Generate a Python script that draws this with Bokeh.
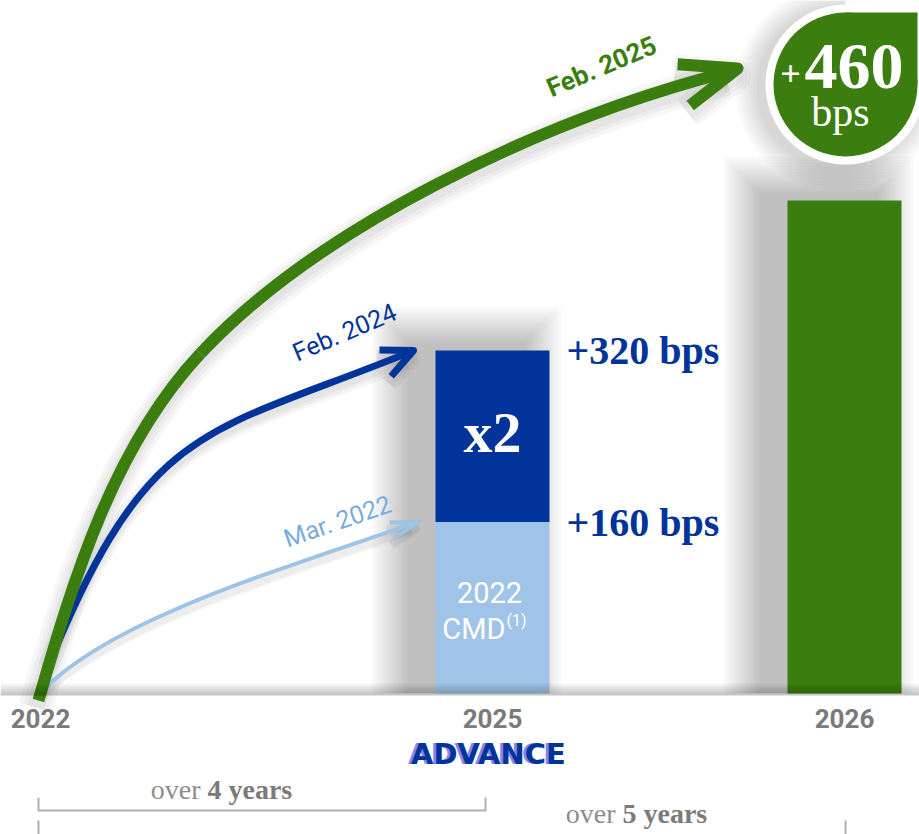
import math
from bokeh.plotting import figure
from bokeh.models import Range1d
from bokeh.embed import file_html
from bokeh.resources import INLINE
from bokeh.core.properties import value

# ---------------- data ----------------
years = ["2022", "2025", "2026"]
cmd_2022_bps = 160          # Mar. 2022 (2022 CMD) target
feb_2024_bps = 320          # Feb. 2024 target (x2)
feb_2025_bps = 460          # Feb. 2025 target
stack_labels = ["+160 bps", "+320 bps"]
arrow_labels = ["Mar. 2022", "Feb. 2024", "Feb. 2025"]
cmd_label = ["2022", "CMD", "(1)"]
mult_label = "x2"
bubble_label = ["+", "460", "bps"]
period_labels = [("over", "4 years"), ("over", "5 years")]
brand = "ADVANCE"

# ---------------- layout / style ----------------
W, H = 919, 834
BASE_PX = 693            # pixel row of the zero line
K = 1.0715               # pixels per bps
BAR_W = 114
year_x = {"2022": 40, "2025": 492, "2026": 844}

GREEN = "#3b7d0e"
BLUE = "#00349a"
LIGHT = "#a0c4e8"
LIGHT_ARROW = "#9dc3e6"
LIGHT_TEXT = "#78acdf"
GREY_TXT = "#7a7a7a"
GREY_LINE = "#b0b0b0"
SERIF = value("Liberation Serif")
SANS = value("Roboto")


def Y(py):
    """pixel row -> data y (bps)."""
    return (BASE_PX - py) / K


def LV(v):
    """data value -> pixel row."""
    return BASE_PX - v * K


p = figure(width=W, height=H, x_range=Range1d(0, W), y_range=Range1d(Y(H), Y(0)),
           output_backend="svg", toolbar_location=None, min_border=0,
           x_axis_location=None, y_axis_location=None)
p.grid.visible = False
p.outline_line_color = None
p.background_fill_color = "white"
p.border_fill_color = "white"

# ---------------- soft shadows ----------------
SDX, SDY = -26, -6
bars_px = [
    (year_x["2025"] - BAR_W / 2, year_x["2025"] + BAR_W / 2, LV(feb_2024_bps)),
    (year_x["2026"] - BAR_W / 2, year_x["2026"] + BAR_W / 2, LV(feb_2025_bps)),
]
for e in range(38, 0, -3):
    p.quad(left=[b[0] - e + SDX for b in bars_px],
           right=[b[1] + e + SDX for b in bars_px],
           top=[Y(b[2] - e + SDY) for b in bars_px],
           bottom=[Y(BASE_PX)] * len(bars_px),
           fill_color="black", fill_alpha=0.021, line_color=None)

# bubble shadow
BC = (845, 84)
for e in range(22, 0, -3):
    p.scatter(x=[BC[0] - 8], y=[Y(BC[1] + 4)], size=2 * (80 + e), marker="circle",
              fill_color="black", fill_alpha=0.02, line_color=None)


# ---------------- curves ----------------
def bez(seg):
    (x0, y0), (c0x, c0y), (c1x, c1y), (x1, y1) = seg
    return dict(x0=[x0], y0=[Y(y0)], cx0=[c0x], cy0=[Y(c0y)],
                cx1=[c1x], cy1=[Y(c1y)], x1=[x1], y1=[Y(y1)])


def shifted(seg, dx, dy):
    return tuple((a + dx, b + dy) for a, b in seg)


def head(tip, ang, length, half):
    tx, ty = tip
    pts = []
    for s in (-1, 1):
        a = math.radians(ang + s * half)
        pts.append((tx - length * math.cos(a), ty + length * math.sin(a)))
    xs = [pts[0][0], tx, pts[1][0]]
    ys = [Y(pts[0][1]), Y(ty), Y(pts[1][1])]
    return xs, ys


light_tip = (418, LV(cmd_2022_bps))
blue_tip = (413, LV(feb_2024_bps))
green_tip = (737, 68)

light_seg = [((42, 690), (112, 619), (271, 572), (light_tip[0] - 4, light_tip[1] + 1))]
blue_seg = [((50, 660), (149, 420), (206, 434), (blue_tip[0] - 5, blue_tip[1] + 2))]
green_seg = [((38, 700), (73, 578), (113, 446), (200, 353)),
             ((200, 353), (316, 229), (535, 121), (729, 71))]

curves = [
    (light_seg, LIGHT_ARROW, 4, light_tip, 17, 29, 16, [10, 7]),
    (blue_seg, BLUE, 7, blue_tip, 24, 34, 25, [20, 14, 9]),
    (green_seg, GREEN, 12, green_tip, 17, 60, 21, [34, 26, 18]),
]

# shadows of curves
for segs, col, lw, tip, ang, ln, half, sw in curves:
    for w in sw:
        for s in segs:
            p.bezier(**bez(shifted(s, -3, 7)), line_color="black", line_alpha=0.035,
                     line_width=w, line_cap="butt")
        hx, hy = head((tip[0] - 3, tip[1] + 7), ang, ln, half)
        p.line(hx, hy, line_color="black", line_alpha=0.03, line_width=w, line_join="round")

for segs, col, lw, tip, ang, ln, half, sw in curves:
    for s in segs:
        p.bezier(**bez(s), line_color=col, line_width=lw, line_cap="butt")
    hx, hy = head(tip, ang, ln, half)
    p.line(hx, hy, line_color=col, line_width=lw, line_join="round", line_cap="butt")

# arrow labels
p.text(x=[337], y=[Y(521)], text=[arrow_labels[0]], angle=math.radians(19),
       text_font=SANS, text_font_size="25px", text_color=LIGHT_TEXT,
       text_align="center", text_baseline="middle")
p.text(x=[344], y=[Y(332)], text=[arrow_labels[1]], angle=math.radians(23),
       text_font=SANS, text_font_size="25px", text_color=BLUE,
       text_align="center", text_baseline="middle")
p.text(x=[601], y=[Y(66)], text=[arrow_labels[2]], angle=math.radians(23),
       text_font=SANS, text_font_style="bold", text_font_size="26px", text_color=GREEN,
       text_align="center", text_baseline="middle")

# ---------------- bars ----------------
p.vbar(x=[year_x["2025"]], bottom=[0], top=[cmd_2022_bps], width=BAR_W,
       fill_color=LIGHT, line_color=None)
p.vbar(x=[year_x["2025"]], bottom=[cmd_2022_bps], top=[feb_2024_bps], width=BAR_W,
       fill_color=BLUE, line_color=None)
p.vbar(x=[year_x["2026"]], bottom=[0], top=[feb_2025_bps], width=BAR_W,
       fill_color=GREEN, line_color=None)

# floor shading
for k in range(6):
    p.quad(left=[0], right=[W], top=[Y(683 + 2 * k)], bottom=[Y(695)],
           fill_color="black", fill_alpha=0.04, line_color=None)

# bar texts
p.text(x=[year_x["2025"] + BAR_W / 2 + 17] * 2, y=[cmd_2022_bps, feb_2024_bps],
       text=stack_labels, text_font=SERIF, text_font_style="bold", text_font_size="40px",
       text_color=BLUE, text_align="left", text_baseline="middle")
p.text(x=[year_x["2025"]], y=[(cmd_2022_bps + feb_2024_bps) / 2 + 4], text=[mult_label],
       text_font=SERIF, text_font_style="bold", text_font_size="58px", text_color="white",
       text_align="center", text_baseline="middle")
p.text(x=[489], y=[Y(592)], text=[cmd_label[0]], text_font=SANS, text_font_size="29px",
       text_color="white", text_align="center", text_baseline="middle")
p.text(x=[505], y=[Y(628)], text=[cmd_label[1]], text_font=SANS, text_font_size="29px",
       text_color="white", text_align="right", text_baseline="middle")
p.text(x=[506], y=[Y(620)], text=[cmd_label[2]], text_font=SANS, text_font_size="16px",
       text_color="white", text_align="left", text_baseline="middle")

# ---------------- bubble ----------------
p.scatter(x=[BC[0]], y=[Y(BC[1])], size=160, marker="circle", fill_color="white", line_color=None)
p.quad(left=[BC[0]], right=[W + 10], top=[Y(-10)], bottom=[Y(BC[1])],
       fill_color="white", line_color=None)
p.scatter(x=[BC[0]], y=[Y(BC[1])], size=144, marker="circle", fill_color=GREEN, line_color=None)
p.quad(left=[BC[0]], right=[917], top=[Y(12)], bottom=[Y(BC[1])],
       fill_color=GREEN, line_color=None)
p.text(x=[790], y=[Y(73)], text=[bubble_label[0]], text_font=SERIF, text_font_style="bold",
       text_font_size="36px", text_color="white", text_align="center", text_baseline="middle")
p.text(x=[804], y=[Y(66)], text=[bubble_label[1]], text_font=SERIF, text_font_style="bold",
       text_font_size="66px", text_color="white", text_align="left", text_baseline="middle")
p.text(x=[840], y=[Y(111)], text=[bubble_label[2]], text_font=SERIF,
       text_font_size="42px", text_color="white", text_align="center", text_baseline="middle")

# ---------------- x labels ----------------
p.text(x=[year_x[y] for y in years], y=[Y(718)] * 3, text=years, text_font=SANS,
       text_font_style="bold", text_font_size="26px", text_color=GREY_TXT,
       text_align="center", text_baseline="middle")

# brand
p.text(x=[485], y=[Y(753)], text=[brand], text_font=value("DejaVu Sans"), text_font_style="bold",
       text_font_size="29px", text_color="#8585f0", text_align="center", text_baseline="middle")
p.text(x=[488], y=[Y(753)], text=[brand], text_font=value("DejaVu Sans"), text_font_style="bold",
       text_font_size="29px", text_color=BLUE, text_align="center", text_baseline="middle")

# period brackets
p.multi_line(xs=[[38, 38, 485, 485], [38, 38, 845, 845]],
             ys=[[Y(797), Y(810), Y(810), Y(797)], [Y(820), Y(837), Y(837), Y(820)]],
             line_color=GREY_LINE, line_width=2)
for (a, b), xm, mid in zip(period_labels, [203, 618], [789, 813]):
    p.text(x=[xm - 3], y=[Y(mid)], text=[a], text_font=SERIF, text_font_size="28px",
           text_color="#8c8c8c", text_align="right", text_baseline="middle")
    p.text(x=[xm + 4], y=[Y(mid)], text=[b], text_font=SERIF, text_font_style="bold",
           text_font_size="28px", text_color="#7a7a7a", text_align="left", text_baseline="middle")

open("out.html", "w").write(file_html(p, INLINE))
